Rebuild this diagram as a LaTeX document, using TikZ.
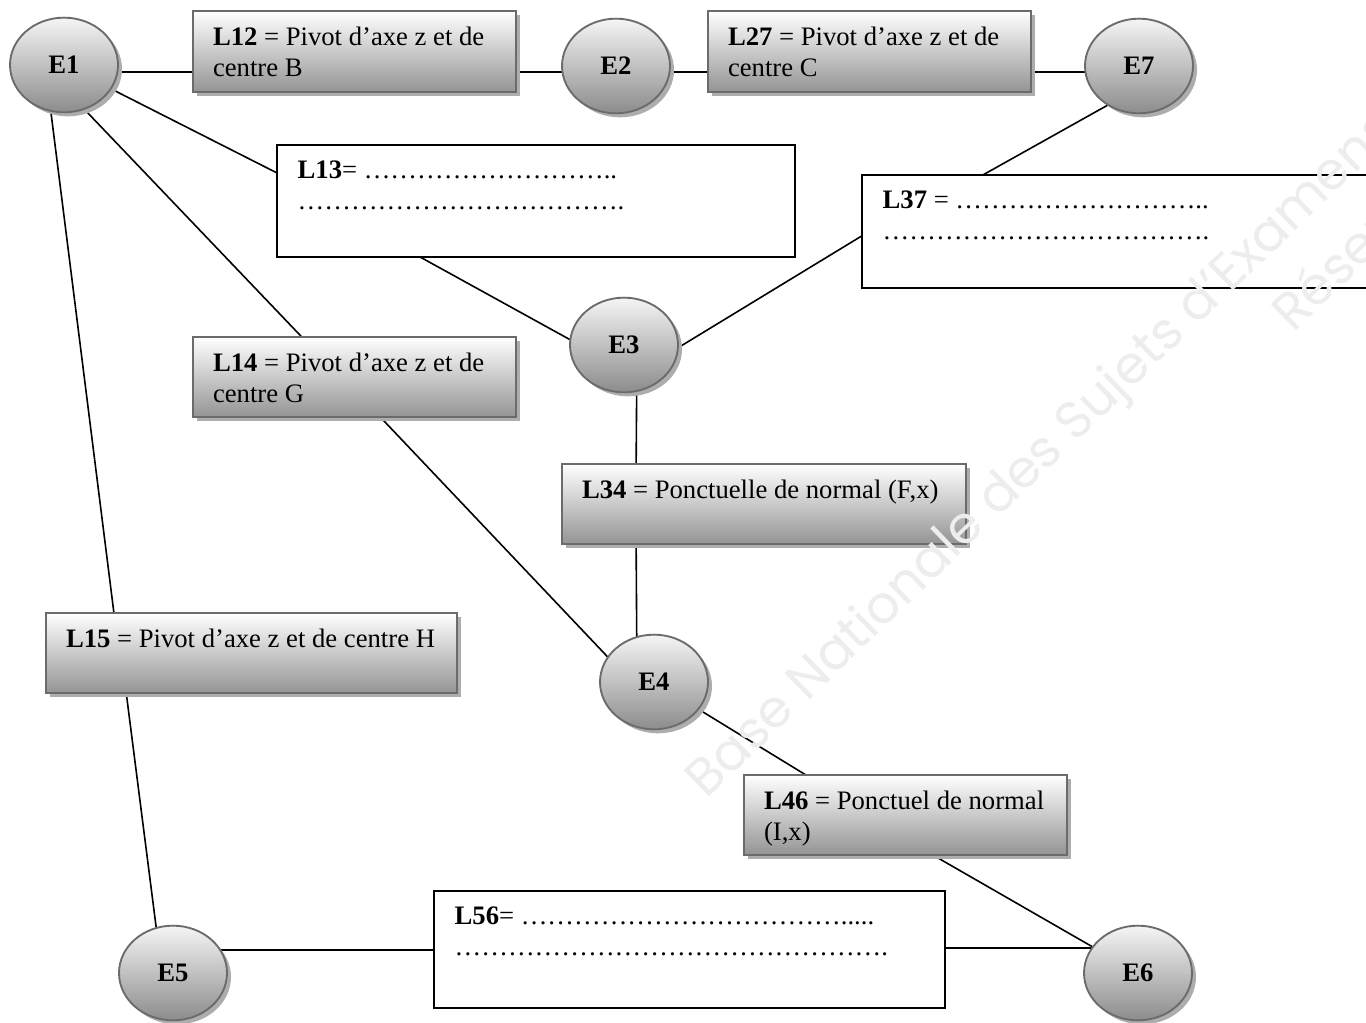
\documentclass[tikz,border=0pt]{standalone}
\usepackage{fontspec}
\setmainfont{Liberation Serif}
\newfontfamily\wmfont{Poppins}
\usetikzlibrary{shapes.geometric,shadows,calc,backgrounds}
\newcommand{\bx}[3]{\parbox[c][#1][t]{#2}{\raggedright #3}}
\newcommand{\dts}[1]{\foreach\i in {1,...,#1}{…}}
\begin{document}
\begin{tikzpicture}[x=0.75pt,y=-0.75pt,
  every node/.style={font=\fontsize{20}{23.25}\selectfont},
  shad/.style={drop shadow={shadow xshift=3pt,shadow yshift=-3pt,fill=black!32,opacity=1}},
  ell/.style={ellipse,draw=black!58,line width=1.4pt,top color=black!4,bottom color=black!45,
    minimum width=81pt,minimum height=71pt,inner sep=0pt,shad,font=\fontsize{20}{23.25}\selectfont\bfseries},
  sbox/.style={rectangle,draw=black!58,line width=1.4pt,top color=white,bottom color=black!42,
    inner xsep=15pt,inner ysep=12pt,shad},
  wbox/.style={rectangle,draw=black,line width=1.1pt,fill=white,inner xsep=15.5pt,inner ysep=12pt},
  link/.style={draw=black,line width=1.2pt},
  wm/.style={text=black!7,font=\wmfont\fontsize{39}{39}\selectfont,rotate=44,anchor=base west,inner sep=0pt}]
\useasboundingbox (0,0) rectangle (1366,1023);
\begin{scope}
\clip (0,0) rectangle (1366,1023);
% ellipses
\node[ell] (E1) at (64,65) {E1};
\node[ell] (E2) at (616,66) {E2};
\node[ell] (E7) at (1139,66) {E7};
\node[ell] (E3) at (624,345) {E3};
\node[ell] (E4) at (654,682) {E4};
\node[ell] (E5) at (173,973) {E5};
\node[ell] (E6) at (1138,973) {E6};
% shaded boxes
\node[sbox] (L12) at (354.5,51.5) {\bx{36.5pt}{212.25pt}{\textbf{L12} = Pivot d’axe z et de\\centre B}};
\node[sbox] (L27) at (869.5,51.5) {\bx{36.5pt}{212.25pt}{\textbf{L27} = Pivot d’axe z et de\\centre C}};
\node[sbox] (L14) at (354.5,377) {\bx{36pt}{212.25pt}{\textbf{L14} = Pivot d’axe z et de\\centre G}};
\node[sbox] (L34) at (764,504) {\bx{36pt}{273pt}{\textbf{L34} = Ponctuelle de normal (F,x)}};
\node[sbox] (L15) at (251.5,653) {\bx{36pt}{278.25pt}{\textbf{L15} = Pivot d’axe z et de centre H}};
\node[sbox] (L46) at (905.5,815) {\bx{36pt}{212.25pt}{\textbf{L46} = Ponctuel de normal\\(I,x)}};
% white boxes
\node[wbox] (L13) at (536,201) {\bx{60pt}{357.5pt}{\textbf{L13}= \dts{9}..\\\dts{12}.}};
\node[wbox] (L37) at (1121,231.5) {\bx{60.75pt}{357.5pt}{\textbf{L37} = \dts{9}..\\\dts{12}.}};
\node[wbox] (L56) at (689.5,949.5) {\bx{63.75pt}{352.25pt}{\textbf{L56}= \dts{12}.....\\\dts{16}.}};
% connectors
\begin{pgfonlayer}{background}
\fill[white] (0,0) rectangle (1366,1023);
\path[link] ($(E1)+(0,7)$) -- ($(L12)+(0,20.5)$);
\path[link] ($(L12)+(0,20.5)$) -- ($(E2)+(0,6)$);
\path[link] ($(E2)+(0,6)$) -- ($(L27)+(0,20.5)$);
\path[link] ($(L27)+(0,20.5)$) -- ($(E7)+(0,6)$);
\path[link] (E1) -- ($(L13.west)+(60,2)$);
\path[link] ($(E1)+(0,23)$) -- ($(L14.north west)+(137,29.5)$);
\path[link] ($(E1)+(-19,0)$) -- ($(L15.north west)+(70,10)$);
\path[link] ($(L15.south west)+(80,-10)$) -- ($(E5)+(-11,0)$);
\path[link] ($(L13.south west)+(127,-10)$) -- ($(E3)+(-20,13.4)$);
\path[link] ($(E3)+(20,23.5)$) -- ($(L37.north west)+(18,51)$);
\path[link] ($(L37.north west)+(105,10)$) -- ($(E7)+(-15,30)$);
\path[link] ($(E3)+(13,0)$) -- ($(L34.north west)+(75,10)$);
\path[link] ($(L34.south west)+(75,-10)$) -- ($(E4)+(-17,0)$);
\path[link] ($(L14.south west)+(179,-10.6)$) -- ($(E4)+(-24,-1.5)$);
\path[link] (E4) -- ($(L46.north west)+(76,9)$);
\path[link] ($(L46.south west)+(174,-10)$) -- (E6);
\path[link] ($(E5)+(0,-23)$) -- ($(L56)+(0,0.5)$);
\path[link] ($(L56)+(0,-1.5)$) -- ($(E6)+(0,-25)$);
\end{pgfonlayer}
% watermark
\node[wm] (wm1) at (706,800) {Base Nationale des Sujets d’Examens};
\node[wm] (wm2) at (1293,334) {Réservé};
\end{scope}
\end{tikzpicture}
\end{document}
